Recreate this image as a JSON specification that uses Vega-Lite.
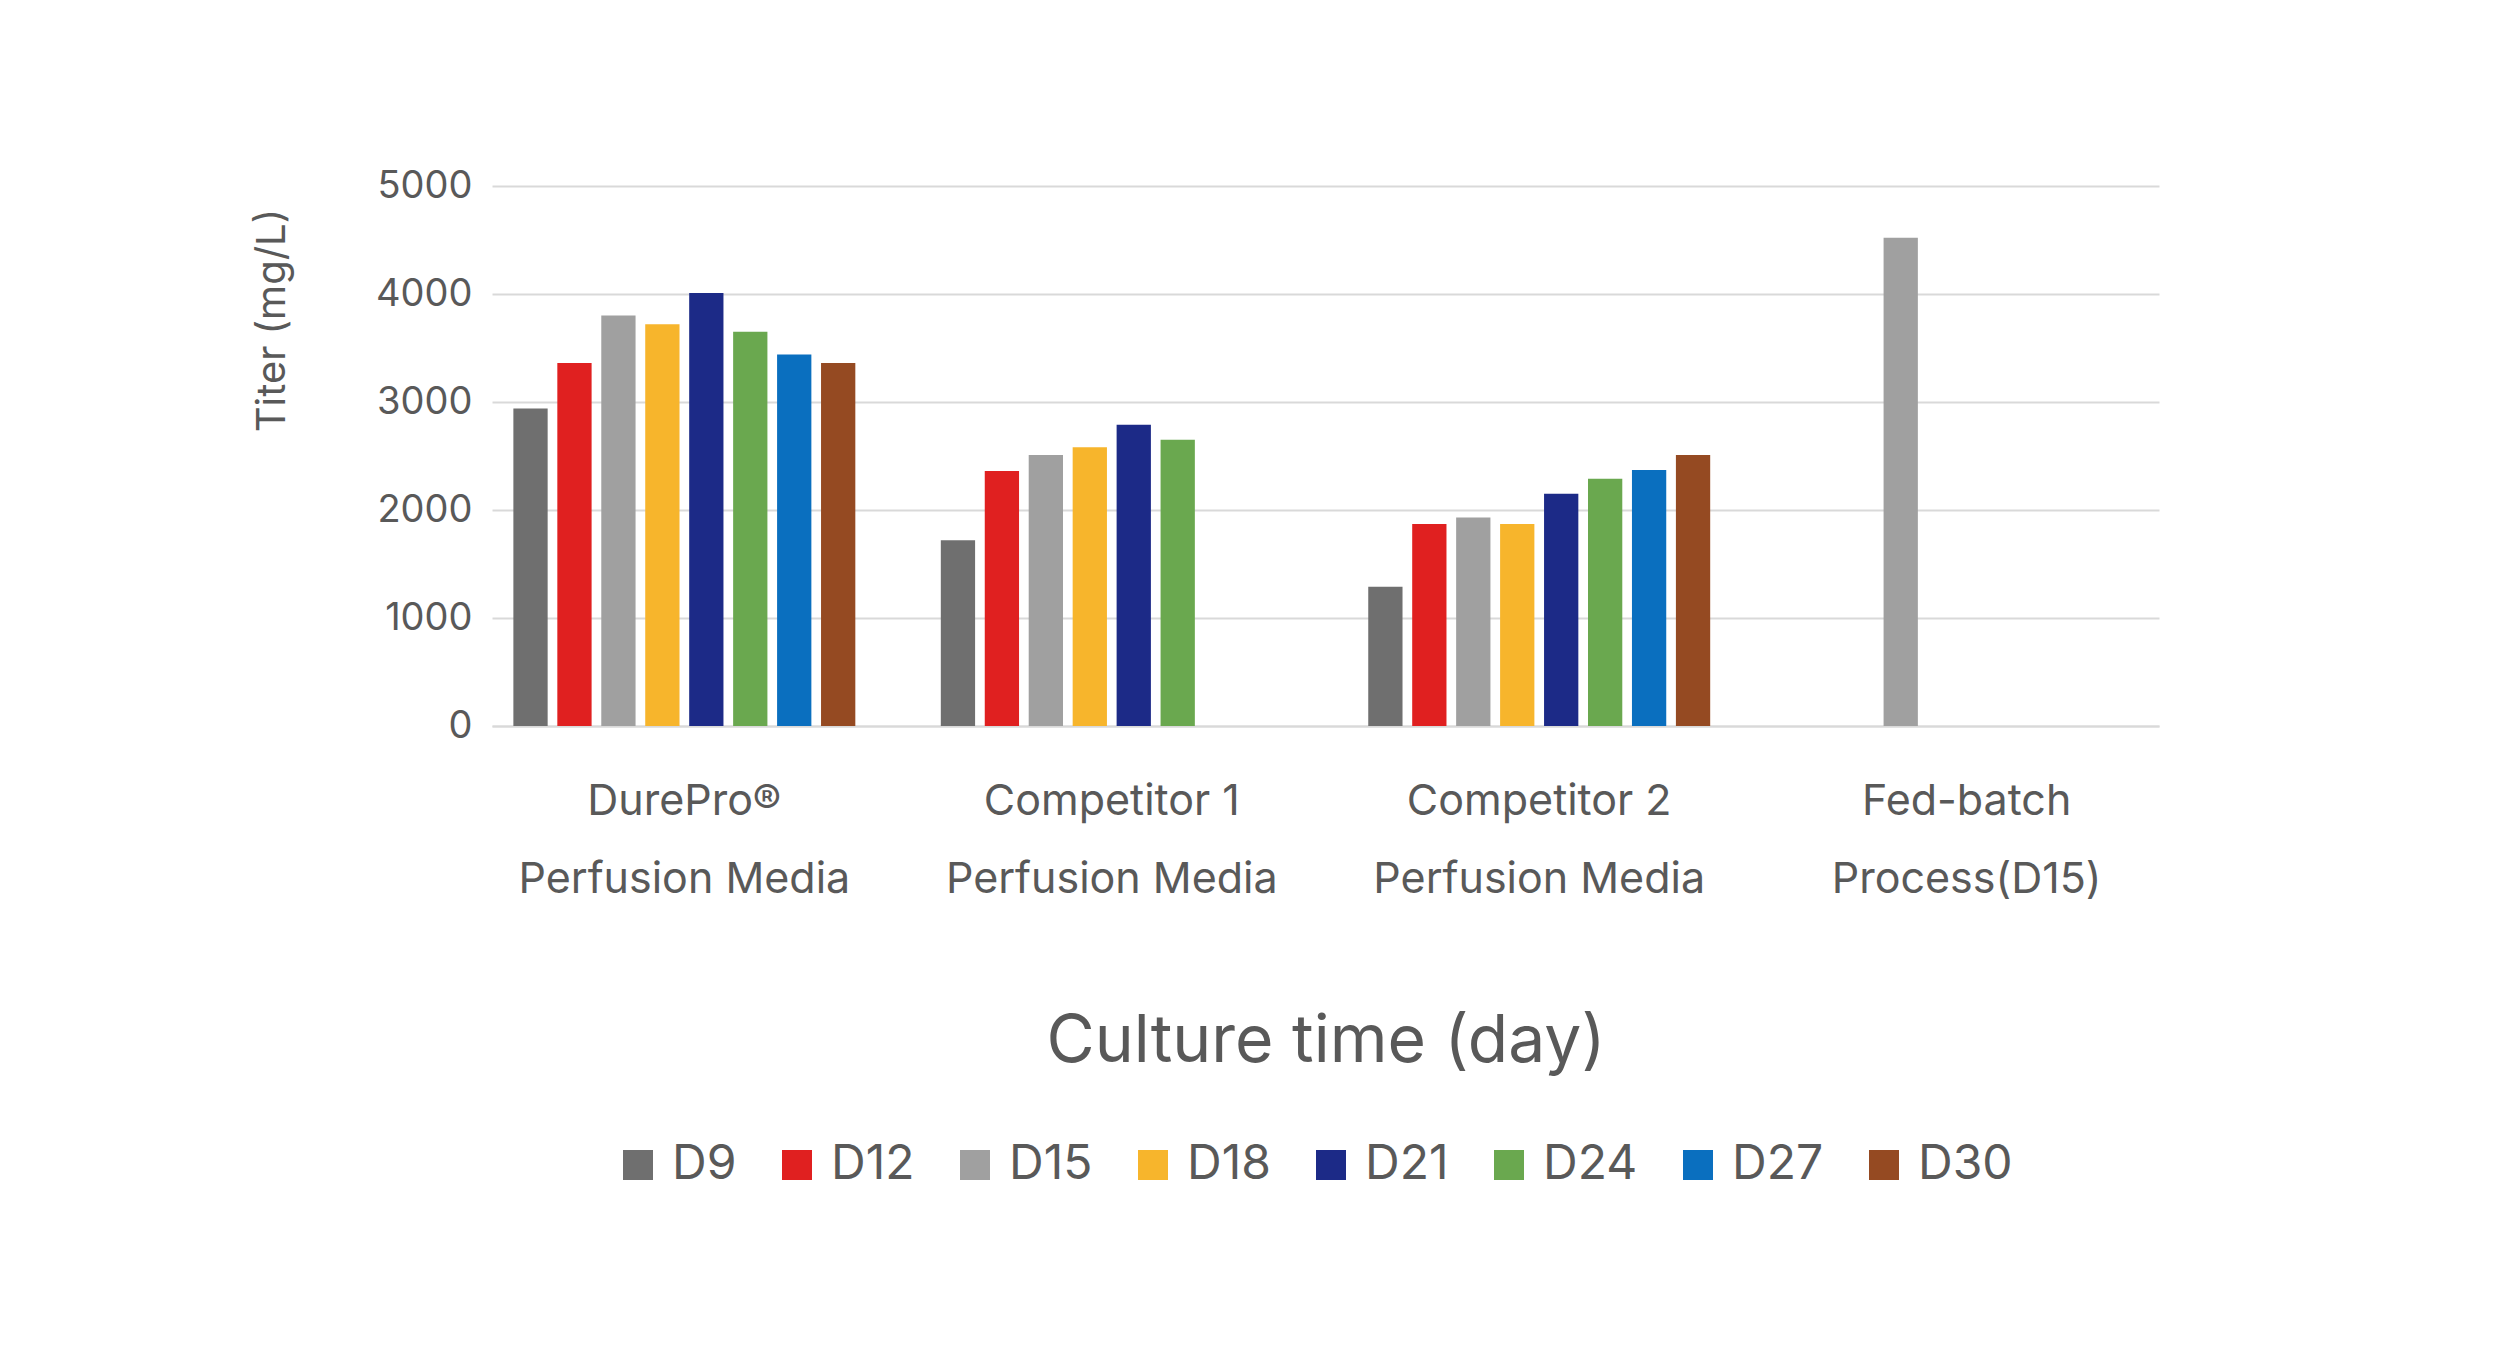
{
  "$schema": "https://vega.github.io/schema/vega-lite/v6.json",
  "width": 1667,
  "height": 540,
  "autosize": "none",
  "padding": {"left": 492, "top": 186, "right": 341, "bottom": 631},
  "background": "white",
  "config": {
    "font": "Inter",
    "view": {"stroke": null},
    "axis": {"labelColor": "#595959", "titleColor": "#595959", "titleFontWeight": "normal"}
  },
  "data": {
    "values": [
      {"group": "DurePro®|Perfusion Media", "day": "D9", "titer": 2940},
      {"group": "DurePro®|Perfusion Media", "day": "D12", "titer": 3360},
      {"group": "DurePro®|Perfusion Media", "day": "D15", "titer": 3800},
      {"group": "DurePro®|Perfusion Media", "day": "D18", "titer": 3720},
      {"group": "DurePro®|Perfusion Media", "day": "D21", "titer": 4010},
      {"group": "DurePro®|Perfusion Media", "day": "D24", "titer": 3650},
      {"group": "DurePro®|Perfusion Media", "day": "D27", "titer": 3440},
      {"group": "DurePro®|Perfusion Media", "day": "D30", "titer": 3360},
      {"group": "Competitor 1|Perfusion Media", "day": "D9", "titer": 1720},
      {"group": "Competitor 1|Perfusion Media", "day": "D12", "titer": 2360},
      {"group": "Competitor 1|Perfusion Media", "day": "D15", "titer": 2510},
      {"group": "Competitor 1|Perfusion Media", "day": "D18", "titer": 2580},
      {"group": "Competitor 1|Perfusion Media", "day": "D21", "titer": 2790},
      {"group": "Competitor 1|Perfusion Media", "day": "D24", "titer": 2650},
      {"group": "Competitor 2|Perfusion Media", "day": "D9", "titer": 1290},
      {"group": "Competitor 2|Perfusion Media", "day": "D12", "titer": 1870},
      {"group": "Competitor 2|Perfusion Media", "day": "D15", "titer": 1930},
      {"group": "Competitor 2|Perfusion Media", "day": "D18", "titer": 1870},
      {"group": "Competitor 2|Perfusion Media", "day": "D21", "titer": 2150},
      {"group": "Competitor 2|Perfusion Media", "day": "D24", "titer": 2290},
      {"group": "Competitor 2|Perfusion Media", "day": "D27", "titer": 2370},
      {"group": "Competitor 2|Perfusion Media", "day": "D30", "titer": 2510},
      {"group": "Fed-batch|Process(D15)", "day": "D15", "titer": 4520}
    ]
  },
  "mark": {"type": "bar"},
  "encoding": {
    "x": {
      "field": "group",
      "type": "nominal",
      "sort": null,
      "scale": {"paddingInner": 0.2, "paddingOuter": 0.05},
      "axis": {
        "title": "Culture time (day)",
        "titleFontSize": 66,
        "titleY": 283,
        "labelExpr": "split(datum.label, '|')",
        "labelAngle": 0,
        "labelFontSize": 43,
        "labelLimit": 0,
        "labelLineHeight": 78,
        "labelPadding": 54,
        "ticks": false,
        "domainColor": "#d9d9d9",
        "domainWidth": 2
      }
    },
    "xOffset": {
      "field": "day",
      "type": "nominal",
      "sort": ["D9", "D12", "D15", "D18", "D21", "D24", "D27", "D30"],
      "scale": {"paddingInner": 0.22}
    },
    "y": {
      "field": "titer",
      "type": "quantitative",
      "scale": {"domain": [0, 5000]},
      "axis": {
        "title": "Titer (mg/L)",
        "titleFontSize": 40,
        "titleX": -220,
        "titleY": 134,
        "titleAlign": "center",
        "titleBaseline": "middle",
        "values": [0, 1000, 2000, 3000, 4000, 5000],
        "format": "d",
        "labelFontSize": 38,
        "labelPadding": 20,
        "domain": false,
        "ticks": false,
        "gridColor": "#d9d9d9",
        "gridWidth": 2
      }
    },
    "color": {
      "field": "day",
      "type": "nominal",
      "sort": ["D9", "D12", "D15", "D18", "D21", "D24", "D27", "D30"],
      "scale": {
        "domain": ["D9", "D12", "D15", "D18", "D21", "D24", "D27", "D30"],
        "range": ["#6f6f6f", "#e02020", "#a0a0a0", "#f7b52c", "#1c2a87", "#6aa84f", "#0a6fbf", "#954a22"]
      },
      "legend": {
        "title": null,
        "orient": "none",
        "direction": "horizontal",
        "legendX": 122,
        "legendY": 955,
        "symbolType": "square",
        "symbolSize": 900,
        "symbolStrokeWidth": 0,
        "labelFontSize": 48,
        "labelColor": "#595959",
        "labelLimit": 200,
        "columnPadding": 36,
        "labelOffset": 10
      }
    }
  }
}
